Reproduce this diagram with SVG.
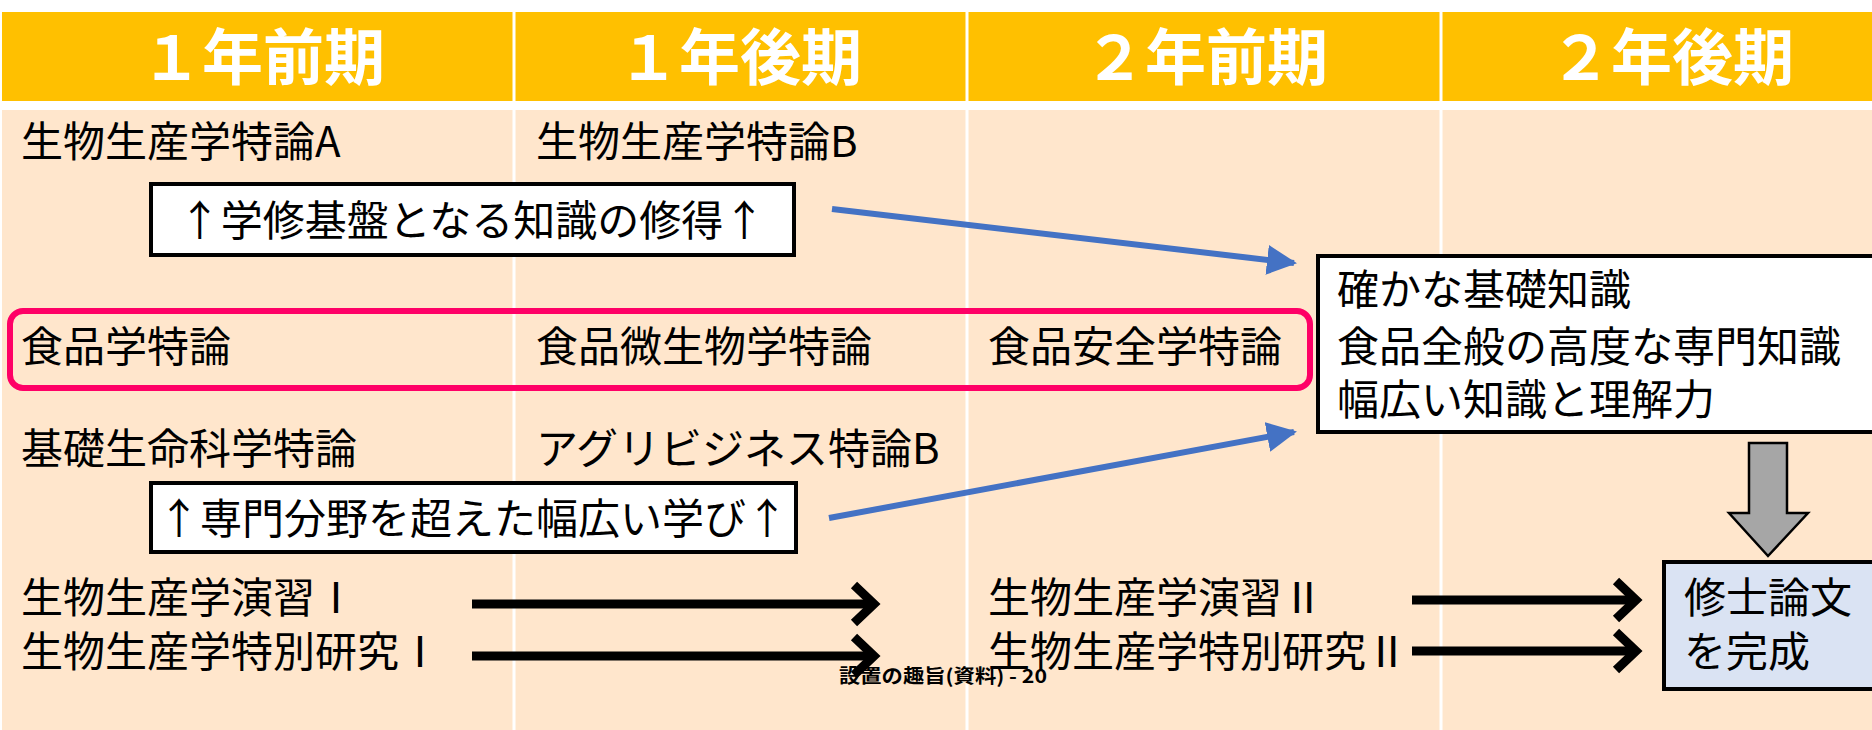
<svg xmlns="http://www.w3.org/2000/svg" width="1872" height="730" viewBox="0 0 1872 730">
<style>
.hd{font-family:"Noto Sans CJK JP","Noto Sans",sans-serif;font-weight:bold;font-size:61px;fill:#fff;text-anchor:middle}
.t{font-family:"Noto Sans CJK JP","Noto Sans",sans-serif;font-size:42px;fill:#000}
.bx{fill:#fff;stroke:#000;stroke-width:4}
.blue{stroke:#4472C4;stroke-width:6;fill:none}
.blk{stroke:#000;stroke-width:9;fill:none}
</style>
<defs>
<marker id="ba" viewBox="0 0 10 10" refX="9" refY="5" markerWidth="5" markerHeight="5" orient="auto" markerUnits="strokeWidth">
<path d="M0,0 L10,5 L0,10 Z" fill="#4472C4"/>
</marker>
</defs>
<rect width="1872" height="730" fill="#fff"/>
<g id="header">
<rect x="2" y="12" width="1870" height="89" fill="#FFC000"/>
<rect x="2" y="110" width="1870" height="620" fill="#FFE6CC"/>
<g stroke="#fff" stroke-width="3">
<line x1="514" y1="0" x2="514" y2="730"/>
<line x1="967" y1="0" x2="967" y2="730"/>
<line x1="1441" y1="0" x2="1441" y2="730"/>
</g>
<text class="hd" x="263" y="80">１年前期</text>
<text class="hd" x="740" y="80">１年後期</text>
<text class="hd" x="1206" y="80">２年前期</text>
<text class="hd" x="1672" y="80">２年後期</text>
</g>
<g id="courses">
<text class="t" x="21" y="157">生物生産学特論A</text>
<text class="t" x="536" y="157">生物生産学特論B</text>
<text class="t" x="21" y="362">食品学特論</text>
<text class="t" x="536" y="362">食品微生物学特論</text>
<text class="t" x="988" y="362">食品安全学特論</text>
<text class="t" x="21" y="464">基礎生命科学特論</text>
<text class="t" x="536" y="464">アグリビジネス特論B</text>
<text class="t" x="21" y="613">生物生産学演習Ⅰ</text>
<text class="t" x="21" y="667">生物生産学特別研究Ⅰ</text>
<text class="t" x="988" y="613">生物生産学演習Ⅱ</text>
<text class="t" x="988" y="667">生物生産学特別研究Ⅱ</text>
</g>
<g id="food-group">
<rect x="10" y="311" width="1300" height="77" rx="13" fill="none" stroke="#FF0066" stroke-width="6"/>
</g>
<g id="box-basic">
<rect class="bx" x="151" y="184" width="643" height="71"/>
<text class="t" x="472" y="236" text-anchor="middle" font-size="46">↑学修基盤となる知識の修得↑</text>
</g>
<g id="box-broad">
<rect class="bx" x="151" y="483" width="645" height="69"/>
<text class="t" x="473" y="534" text-anchor="middle" font-size="46">↑専門分野を超えた幅広い学び↑</text>
</g>
<g id="box-knowledge">
<rect class="bx" x="1318" y="256" width="556" height="176"/>
<text class="t" x="1337" y="305">確かな基礎知識</text>
<text class="t" x="1337" y="362">食品全般の高度な専門知識</text>
<text class="t" x="1337" y="415">幅広い知識と理解力</text>
</g>
<g id="box-thesis">
<rect x="1664" y="562" width="212" height="127" fill="#DAE3F3" stroke="#000" stroke-width="4"/>
<text class="t" x="1684" y="613" font-size="43">修士論文</text>
<text class="t" x="1684" y="667" font-size="43">を完成</text>
</g>
<g id="connectors">
<line class="blue" x1="832" y1="209" x2="1294" y2="263" marker-end="url(#ba)"/>
<line class="blue" x1="829" y1="518" x2="1294" y2="432" marker-end="url(#ba)"/>
<path d="M1749,443 H1787 V513 H1808 L1768,556 L1729,513 H1749 Z" fill="#A6A6A6" stroke="#000" stroke-width="2.5"/>
<line class="blk" x1="472" y1="604" x2="874" y2="604"/>
<polyline class="blk" points="854,585 874,604 854,623"/>
<line class="blk" x1="472" y1="656" x2="874" y2="656"/>
<polyline class="blk" points="854,637 874,656 854,675"/>
<line class="blk" x1="1412" y1="600" x2="1636" y2="600"/>
<polyline class="blk" points="1616,581 1636,600 1616,619"/>
<line class="blk" x1="1412" y1="651" x2="1636" y2="651"/>
<polyline class="blk" points="1616,632 1636,651 1616,670"/>
</g>
<text x="839" y="683" font-family="'Liberation Sans Narrow','Noto Sans CJK JP',sans-serif" font-weight="bold" font-size="19" textLength="208" lengthAdjust="spacingAndGlyphs">設置の趣旨(資料) - 20</text>
</svg>
